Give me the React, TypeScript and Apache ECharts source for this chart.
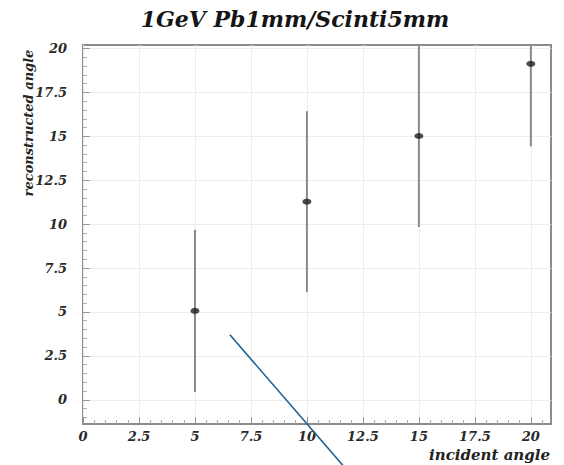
import React, { useEffect, useRef } from "react";
import * as echarts from "echarts";

const titleText = "1GeV Pb1mm/Scinti5mm";
const xName = "incident angle";
const yName = "reconstructed angle";

const incident = [5, 10, 15, 20];
const reconstructed = [5.06, 11.28, 15.02, 19.13];
const errors = [4.62, 5.15, 5.18, 4.7];

const xMin = 0;
const xMax = 20.9;
const yMin = -1.38;
const yMax = 20.2;

const xTicks = [0, 2.5, 5, 7.5, 10, 12.5, 15, 17.5, 20];
const yTicks = [0, 2.5, 5, 7.5, 10, 12.5, 15, 17.5, 20];
const xMinorTicks = [0.5, 1, 1.5, 2, 3, 3.5, 4, 4.5, 5.5, 6, 6.5, 7, 8, 8.5, 9, 9.5, 10.5, 11, 11.5, 12, 13, 13.5, 14, 14.5, 15.5, 16, 16.5, 17, 18, 18.5, 19, 19.5, 20.5];
const yMinorTicks = [-1, -0.5, 0.5, 1, 1.5, 2, 3, 3.5, 4, 4.5, 5.5, 6, 6.5, 7, 8, 8.5, 9, 9.5, 10.5, 11, 11.5, 12, 13, 13.5, 14, 14.5, 15.5, 16, 16.5, 17, 18, 18.5, 19, 19.5];

// annotation stroke (in data coordinates)
const annotationLine = [
  [6.56, 3.7],
  [11.65, -3.8],
];

const FONT = "DejaVu Serif";

export default function App() {
  const ref = useRef<HTMLDivElement>(null);

  useEffect(() => {
    if (!ref.current) return;
    const chart = echarts.init(ref.current, undefined, { renderer: "svg" });

    const points = incident.map((x, i) => [x, reconstructed[i]]);
    const bars = incident.map((x, i) => [x, reconstructed[i] - errors[i], reconstructed[i] + errors[i]]);

    const labelStyle = {
      fontFamily: FONT,
      fontStyle: "italic" as const,
      fontWeight: "bold" as const,
      fontSize: 13,
      color: "#2a2a2a",
    };

    chart.setOption({
      animation: false,
      backgroundColor: "#ffffff",
      grid: {
        left: 83,
        top: 45,
        right: 13,
        bottom: 41,
        show: true,
        borderColor: "#8c8c8c",
        borderWidth: 2,
        backgroundColor: "transparent",
      },
      xAxis: [
        {
          type: "value",
          min: xMin,
          max: xMax,
          position: "bottom",
          axisLine: { show: false, onZero: false },
          axisTick: {
            show: true,
            inside: true,
            length: 7,
            customValues: xTicks,
            lineStyle: { color: "#999", width: 1 },
          },
          axisLabel: {
            ...labelStyle,
            margin: 6,
            customValues: xTicks,
            formatter: (v: number) => String(v),
          },
          splitLine: { show: true, lineStyle: { color: "#ececec", width: 1 } },
        },
        {
          type: "value",
          min: xMin,
          max: xMax,
          position: "bottom",
          offset: 0,
          axisLine: { show: false, onZero: false },
          axisTick: {
            show: true,
            inside: true,
            length: 4,
            customValues: xMinorTicks,
            lineStyle: { color: "#aaa", width: 1 },
          },
          axisLabel: { show: false },
          splitLine: { show: false },
        },
      ],
      yAxis: [
        {
          type: "value",
          min: yMin,
          max: yMax,
          position: "left",
          axisLine: { show: false, onZero: false },
          axisTick: {
            show: true,
            inside: true,
            length: 7,
            customValues: yTicks,
            lineStyle: { color: "#999", width: 1 },
          },
          axisLabel: {
            ...labelStyle,
            margin: 16,
            customValues: yTicks,
            formatter: (v: number) => String(v),
          },
          splitLine: { show: true, lineStyle: { color: "#ececec", width: 1 } },
        },
        {
          type: "value",
          min: yMin,
          max: yMax,
          position: "left",
          offset: 0,
          axisLine: { show: false, onZero: false },
          axisTick: {
            show: true,
            inside: true,
            length: 4,
            customValues: yMinorTicks,
            lineStyle: { color: "#aaa", width: 1 },
          },
          axisLabel: { show: false },
          splitLine: { show: false },
        },
      ],
      series: [
        {
          type: "custom",
          xAxisIndex: 0,
          yAxisIndex: 0,
          clip: true,
          data: bars,
          renderItem: (params: any, api: any) => {
            const x = api.value(0);
            const lo = Math.max(api.value(1), yMin);
            const hi = Math.min(api.value(2), yMax);
            const p1 = api.coord([x, lo]);
            const p2 = api.coord([x, hi]);
            return {
              type: "line",
              shape: { x1: p1[0], y1: p1[1], x2: p2[0], y2: p2[1] },
              style: { stroke: "#8a8a8a", lineWidth: 2 },
            };
          },
          z: 2,
        },
        {
          type: "scatter",
          xAxisIndex: 0,
          yAxisIndex: 0,
          data: points,
          symbol: "circle",
          symbolSize: [9, 6],
          itemStyle: { color: "#1e1e1e" },
          z: 3,
        },
        {
          type: "line",
          xAxisIndex: 0,
          yAxisIndex: 0,
          data: annotationLine,
          clip: false,
          showSymbol: false,
          symbol: "none",
          lineStyle: { color: "#1f6191", width: 1.6 },
          z: 4,
        },
      ],
      graphic: [
        {
          type: "text",
          x: 295,
          y: 19,
          style: {
            text: titleText,
            font: `italic bold 22px "${FONT}"`,
            fill: "#151515",
            textAlign: "center",
            textVerticalAlign: "middle",
          },
        },
        {
          type: "text",
          x: 28,
          y: 123,
          rotation: Math.PI / 2,
          style: {
            text: yName,
            font: `italic bold 13px "${FONT}"`,
            fill: "#222",
            textAlign: "center",
            textVerticalAlign: "middle",
          },
        },
        {
          type: "text",
          x: 550,
          y: 455,
          style: {
            text: xName,
            font: `italic bold 15px "${FONT}"`,
            fill: "#222",
            textAlign: "right",
            textVerticalAlign: "middle",
          },
        },
      ],
    });

    return () => chart.dispose();
  }, []);

  return (
    <div
      ref={ref}
      style={{ position: "fixed", left: 0, top: 0, width: 564, height: 465 }}
    />
  );
}
